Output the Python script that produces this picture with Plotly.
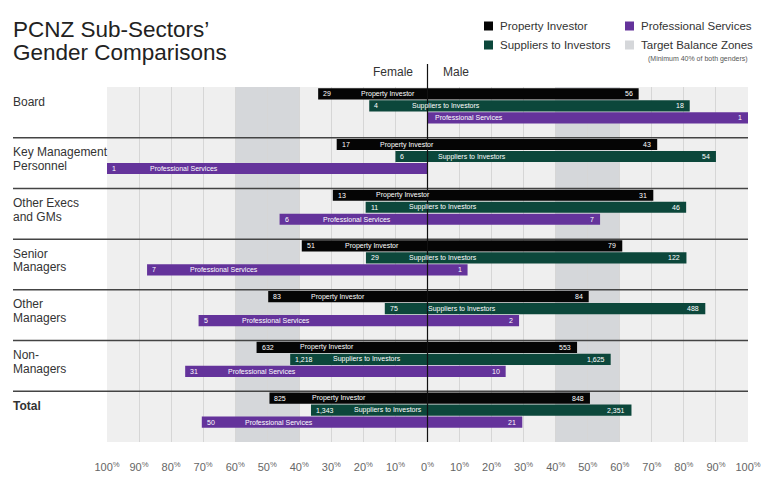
import plotly.graph_objects as go

categories = ["Board", "Key Management<br>Personnel", "Other Execs<br>and GMs",
              "Senior<br>Managers", "Other<br>Managers", "Non-<br>Managers", "<b>Total</b>"]
series_names = ["Property Investor", "Suppliers to Investors", "Professional Services"]
series_colors = ["#050505", "#0c473b", "#64339b"]

# counts per category: female, male
pi_female = [29, 17, 13, 51, 83, 632, 825]
pi_male = [56, 43, 31, 79, 84, 553, 848]
si_female = [4, 6, 11, 29, 75, 1218, 1343]
si_male = [18, 54, 46, 122, 488, 1625, 2351]
ps_female = [0, 1, 6, 7, 5, 31, 50]
ps_male = [1, 0, 7, 1, 2, 10, 21]

tick_vals = list(range(-100, 101, 10))
tick_text = [f"{abs(v)}<sup>%</sup>" for v in tick_vals]

W, H = 768, 487
ML, MR, MT, MB = 107, 20, 87, 45
PW = W - ML - MR
PH = H - MT - MB
NG = len(categories)
GPX = PH / NG
FONT = "Liberation Sans"


def px2x(px):
    return (px - ML) / PW


def px2y(py):
    return 1 - (py - MT) / PH


def fmt(n):
    return f"{n:,}"


fig = go.Figure()
annotations = []
shapes = []

females = [pi_female, si_female, ps_female]
males = [pi_male, si_male, ps_male]
bar_h = 11.2 / GPX
for k in range(3):
    f_pct = [f / (f + m) * 100 for f, m in zip(females[k], males[k])]
    ys = [g + (6.8 + 12 * k) / GPX for g in range(NG)]
    fig.add_trace(go.Bar(
        orientation="h", y=ys, x=[100] * NG, base=[-p for p in f_pct],
        width=bar_h, marker=dict(color=series_colors[k], line=dict(width=0)),
        name=series_names[k], hoverinfo="skip", showlegend=False))
    for g in range(NG):
        left = -f_pct[g]
        right = 100 - f_pct[g]
        fv = females[k][g]
        mv = males[k][g]
        tf = dict(size=7, color="white", family=FONT)
        if fv > 0:
            annotations.append(dict(x=left, y=ys[g], xref="x", yref="y", text=fmt(fv),
                                    showarrow=False, xanchor="left", yanchor="middle",
                                    xshift=3, font=tf))
        annotations.append(dict(x=left, y=ys[g], xref="x", yref="y", text=series_names[k],
                                showarrow=False, xanchor="left", yanchor="middle",
                                xshift=41 if fv > 0 else 5, font=tf))
        if mv > 0:
            annotations.append(dict(x=right, y=ys[g], xref="x", yref="y", text=fmt(mv),
                                    showarrow=False, xanchor="right", yanchor="middle",
                                    xshift=-4, font=tf))

# category labels (one annotation per line for tight line spacing)
for g, c in enumerate(categories):
    for j, line in enumerate(c.split("<br>")):
        annotations.append(dict(x=px2x(11), y=g + (14.5 + 13.8 * j) / GPX, xref="paper",
                                yref="y", text=line, showarrow=False, xanchor="left",
                                yanchor="middle", align="left",
                                font=dict(size=12, color="#333", family=FONT)))

# separators
for g in range(1, NG):
    shapes.append(dict(type="line", xref="paper", yref="y", x0=px2x(13), x1=1, y0=g, y1=g,
                       line=dict(color="#444", width=1.5), layer="above"))

# target zones
for a, b in [(-60, -40), (40, 60)]:
    shapes.append(dict(type="rect", xref="x", yref="paper", x0=a, x1=b, y0=0, y1=1,
                       fillcolor="#d5d7da", line=dict(width=0), layer="below"))

# centre line
shapes.append(dict(type="line", xref="x", yref="paper", x0=0, x1=0, y0=0, y1=px2y(64),
                   line=dict(color="#111", width=1.2), layer="above"))
annotations.append(dict(x=0, y=px2y(72), xref="x", yref="paper", text="Female", showarrow=False,
                        xanchor="right", yanchor="middle", xshift=-13,
                        font=dict(size=12, color="#333", family=FONT)))
annotations.append(dict(x=0, y=px2y(72), xref="x", yref="paper", text="Male", showarrow=False,
                        xanchor="left", yanchor="middle", xshift=13,
                        font=dict(size=12, color="#333", family=FONT)))

# title
annotations.append(dict(x=px2x(11), y=px2y(29), xref="paper", yref="paper",
                        text="PCNZ Sub-Sectors’", showarrow=False, xanchor="left",
                        yanchor="middle", font=dict(size=22.5, color="#222", family=FONT)))
annotations.append(dict(x=px2x(11), y=px2y(53), xref="paper", yref="paper",
                        text="Gender Comparisons", showarrow=False, xanchor="left",
                        yanchor="middle", font=dict(size=22.5, color="#222", family=FONT)))

# legend
legend_items = [("Property Investor", series_colors[0], 484, 26),
                ("Suppliers to Investors", series_colors[1], 484, 45),
                ("Professional Services", series_colors[2], 625, 26),
                ("Target Balance Zones", "#d5d7da", 625, 45)]
for text, col, lx, ly in legend_items:
    shapes.append(dict(type="rect", xref="paper", yref="paper", x0=px2x(lx), x1=px2x(lx + 9),
                       y0=px2y(ly + 4.5), y1=px2y(ly - 4.5), fillcolor=col, line=dict(width=0)))
    annotations.append(dict(x=px2x(lx + 14), y=px2y(ly), xref="paper", yref="paper", text=text,
                            showarrow=False, xanchor="left", yanchor="middle",
                            font=dict(size=11.5, color="#333", family=FONT)))
annotations.append(dict(x=px2x(750), y=px2y(59), xref="paper", yref="paper",
                        text="(Minimum 40% of both genders)", showarrow=False, xanchor="right",
                        yanchor="middle", font=dict(size=7, color="#555", family=FONT)))

fig.update_layout(
    width=W, height=H, margin=dict(l=ML, r=MR, t=MT, b=MB, autoexpand=False),
    paper_bgcolor="white", plot_bgcolor="#efefef",
    barmode="overlay", showlegend=False,
    xaxis=dict(range=[-100, 100], tickvals=tick_vals, ticktext=tick_text, showgrid=True,
               gridcolor="#d6d6d6", gridwidth=1, zeroline=False, ticks="outside", ticklen=15,
               tickcolor="rgba(0,0,0,0)", tickfont=dict(size=11, color="#666", family=FONT),
               fixedrange=True, showline=False, automargin=False),
    yaxis=dict(range=[NG, 0], showticklabels=False, showgrid=False, zeroline=False,
               fixedrange=True, automargin=False),
    shapes=shapes, annotations=annotations,
)

fig.write_html("out.html", config={"displayModeBar": False},
               post_script="document.body.style.margin='0';document.body.style.overflow='hidden';")
